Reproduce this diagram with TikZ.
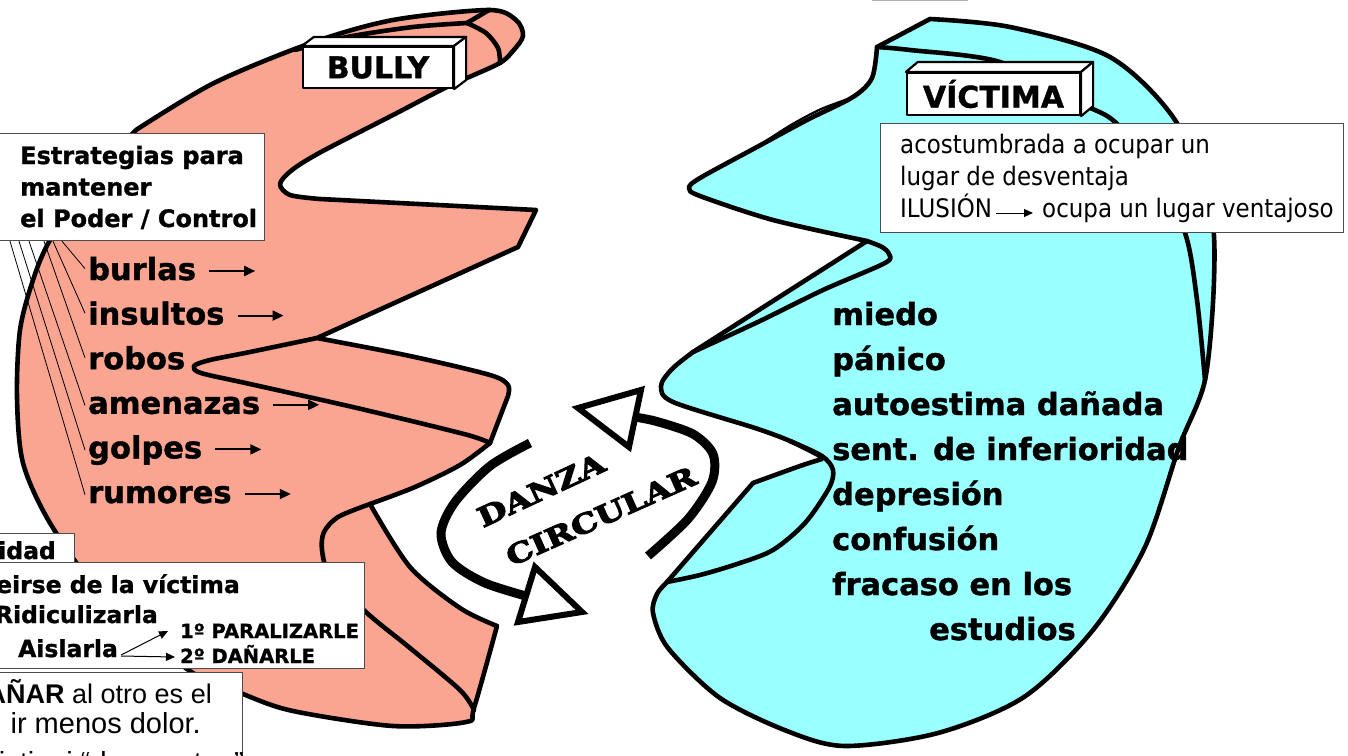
\documentclass[tikz,border=0pt]{standalone}
\usepackage{fontspec}
\setmainfont[BoldFeatures={FakeBold=1.2}]{DejaVu Sans}
\newfontfamily\arialf{Liberation Sans}
\newfontfamily\condf[FakeStretch=0.9]{DejaVu Sans}
\newfontfamily\danzaf[FakeStretch=1.25,FakeBold=4]{DejaVu Serif Bold}
\usetikzlibrary{arrows.meta}
\definecolor{salmon}{RGB}{250,165,145}
\definecolor{cyanf}{RGB}{153,255,255}
\begin{document}
\begin{tikzpicture}[x=1pt,y=-1pt,
  shp/.style={line width=4.6pt, line join=round, line cap=round, draw=black},
  fold/.style={line width=4.6pt, line join=round, line cap=round},
  infobox/.style={draw=black!70, line width=1.2pt, fill=white, inner sep=0pt},
  cubeface/.style={draw=black, line width=2.2pt, fill=white, line join=round},
  bigword/.style={font=\fontsize{30.5}{36}\selectfont\bfseries, inner sep=0pt, anchor=base west},
  estword/.style={font=\fontsize{24}{29}\selectfont\bfseries, inner sep=0pt, anchor=base west},
  boxword/.style={font=\fontsize{23.5}{28}\selectfont\bfseries, inner sep=0pt},
  smallcap/.style={font=\fontsize{19.5}{23}\selectfont\bfseries, inner sep=0pt, anchor=base west},
  arialtext/.style={font=\arialf\fontsize{27}{32}\selectfont, inner sep=0pt, anchor=base east},
  arialbig/.style={font=\arialf\fontsize{29}{32}\selectfont, inner sep=0pt, anchor=base east},
  condtext/.style={font=\condf\fontsize{25.5}{30}\selectfont, inner sep=0pt, anchor=base west},
  cubetext/.style={font=\fontsize{30}{36}\selectfont\bfseries, cubeface, inner sep=0pt},
  fan/.style={line width=0.8pt},
  warrow/.style={line width=2pt, -{Triangle[length=11pt,width=10pt]}},
  sarrow/.style={line width=1pt, -{Triangle[length=9pt,width=8pt]}},
  danzaline/.style={line width=9pt, line cap=butt},
  danzatip/.style={line width=6pt, fill=white, draw=black, line join=miter},
  danzatext/.style={font=\danzaf\fontsize{27}{30}\selectfont, inner sep=0pt}
]
\useasboundingbox (0,0) rectangle (1348,755);
\clip (0,0) rectangle (1348,755);

% ---------- BULLY ribbon ----------
\path[shp, fill=salmon]
 plot[smooth] coordinates {(136,130)(214,83)(311,43)(393,20)(489,10)(516,20)(523,36)(512,52)(498,64)(447,87)(393,115)(321,152)(292,170)(280,184)(290,195)(320,199)}
 -- (536,210) -- (518,247) -- (317,338)
 -- plot[smooth] coordinates {(317,338)(410,356)(490,375)(508,385)(508,396)}
 -- plot[smooth] coordinates {(490,443)(460,465)(415,487)(370,504)}
 -- plot[smooth] coordinates {(370,504)(410,567)(460,608)(497,626)}
 -- plot[smooth] coordinates {(497,626)(474,708)(466,722)(393,726)(293,711)(243,694)(187,669)(100,592)(50,523)(23,463)(17,397)(20,330)(33,280)(50,240)(90,180)(136,130)}
 -- cycle;
\draw[fold] plot[smooth] coordinates {(295,50)(347,37)(413,27)(467,23)};
\draw[fold] (489,10) -- (467,23);
\draw[fold] plot[smooth] coordinates {(467,23)(486,33)(498,48)(500,63)};
\draw[fold] plot[smooth] coordinates {(317,338)(250,352)(210,360)(194,366)(201,373)(250,384)(357,408)(464,434)(490,443)};
\draw[fold] plot[smooth] coordinates {(370,504)(338,517)(324,532)(322,550)(330,575)(367,613)(410,648)(460,690)(474,710)};

% ---------- VICTIMA ribbon ----------
\path[shp, fill=cyanf]
 (877,47) -- (930,19)
 -- plot[smooth] coordinates {(930,19)(1010,27)(1110,57)(1175,120)(1210,207)(1214,280)(1205,380)(1179,447)(1145,547)(1093,630)(1024,697)(938,733)(845,746)(787,731)(720,698)(668,648)(653,613)(657,594)(667,582)}
 -- (753,483)
 -- plot[smooth] coordinates {(753,483)(800,466)(822,459)}
 -- plot[smooth] coordinates {(822,457)(790,441)(755,428)(673,402)(661,386)(672,369)(693,352)}
 -- (867,241)
 -- plot[smooth] coordinates {(867,241)(773,220)(700,196)(689,188)(700,178)(757,147)(807,120)(853,97)(872,78)(877,47)}
 -- cycle;
\draw[fold] plot[smooth] coordinates {(877,47)(910,50)(1000,62)(1080,103)(1115,122)(1152,170)(1185,233)(1197,300)(1205,380)};
\draw[fold] plot[smooth] coordinates {(867,241)(882,247)(889,254)(885,263)(823,290)(760,321)(693,352)};
\draw[fold] plot[smooth] coordinates {(790,441)(822,456)(833,470)(829,488)(805,523)(773,550)(737,564)(700,575)(667,582)};
\draw[line width=2.2pt] plot[smooth] coordinates {(760,145)(790,125.5)(820,109.5)(848,99)};

% faint mark at top
\draw[black!30, line width=2pt] (872,0) -- (968,0);

% ---------- cubes ----------
\node[cubetext, minimum width=150pt, minimum height=41pt] (bully) at (378,67.5) {BULLY};
\path[cubeface] (bully.north west) -- ++(12,-9) -- ([shift={(12,-9)}]bully.north east) -- (bully.north east) -- cycle;
\path[cubeface] (bully.north east) -- ++(12,-9) -- ([shift={(12,-9)}]bully.south east) -- (bully.south east) -- cycle;

\node[cubetext, minimum width=173pt, minimum height=42pt] (victima) at (993.5,94) {VÍCTIMA};
\path[cubeface] (victima.north west) -- ++(12,-10) -- ([shift={(12,-10)}]victima.north east) -- (victima.north east) -- cycle;
\path[cubeface] (victima.north east) -- ++(12,-10) -- ([shift={(12,-10)}]victima.south east) -- (victima.south east) -- cycle;

% ---------- text boxes ----------
\node[infobox, anchor=north west, minimum width=270pt, minimum height=107pt] (estbox) at (-6,133) {};
\node[infobox, anchor=north west, minimum width=80pt, minimum height=30pt] (idadbox) at (-6,533) {};
\node[infobox, anchor=north west, minimum width=370pt, minimum height=106pt] (box2) at (-6,562) {};
\node[infobox, anchor=north west, minimum width=248pt, minimum height=95pt] (box3) at (-6,672) {};
\node[infobox, anchor=north west, minimum width=463pt, minimum height=109pt] (vbox) at (880,123) {};

\node[estword] (est1) at (20,164) {Estrategias para};
\node[estword] (est2) at (20,195.5) {mantener};
\node[estword] (est3) at (20,227) {el Poder / Control};

% ---------- bully words ----------
\node[bigword] (burlas) at (88,280) {burlas};
\node[bigword] (insultos) at (88,324.6) {insultos};
\node[bigword] (robos) at (88,369.2) {robos};
\node[bigword] (amenazas) at (88,413.8) {amenazas};
\node[bigword] (golpes) at (88,458.4) {golpes};
\node[bigword] (rumores) at (88,503) {rumores};
\foreach \w in {burlas,insultos,amenazas,golpes,rumores}{
  \draw[warrow] ([xshift=13pt,yshift=9pt]\w.base east) -- ++(46,0);
}
\draw[fan] ([xshift=68pt]estbox.south west) -- ([xshift=-3pt]burlas.west);
\draw[fan] ([xshift=59pt]estbox.south west) -- ([xshift=-3pt]insultos.west);
\draw[fan] ([xshift=50pt]estbox.south west) -- ([xshift=-3pt]robos.west);
\draw[fan] ([xshift=35pt]estbox.south west) -- ([xshift=-3pt]amenazas.west);
\draw[fan] ([xshift=25pt]estbox.south west) -- ([xshift=-3pt]golpes.west);
\draw[fan] ([xshift=16pt]estbox.south west) -- ([xshift=-3pt]rumores.west);

% ---------- lower-left boxes ----------
\node[boxword, anchor=base east] (idad) at (56,559) {idad};
\node[boxword, anchor=base east] (reir) at (240,593) {eirse de la víctima};
\node[boxword, anchor=base east] (ridic) at (158,623) {Ridiculizarla};
\node[boxword, anchor=base west] (aisl) at (18,657) {Aislarla};
\node[smallcap] (par) at (180,638) {1º PARALIZARLE};
\node[smallcap] (dan) at (180,663) {2º DAÑARLE};
\draw[sarrow] ([xshift=3pt,yshift=2pt]aisl.base east) -- ([xshift=-12pt,yshift=7pt]par.base west);
\draw[sarrow] ([xshift=3pt,yshift=1pt]aisl.base east) -- ([xshift=-5pt,yshift=6pt]dan.base west);

\node[arialtext] (dl1) at (212,703) {\textbf{AÑAR} al otro es el};
\node[arialbig] (dl2) at (201,733) {ir menos dolor.};
\node[arialbig] (dl3) at (244,772) {existir si “desmontan”};

% ---------- victima box ----------
\node[condtext] (vt1) at (900,153) {acostumbrada a ocupar un};
\node[condtext] (vt2) at (900,185) {lugar de desventaja};
\node[condtext] (ilu) at (900,217) {ILUSIÓN};
\node[condtext] (ocupa) at (1042,217) {ocupa un lugar ventajoso};
\draw[sarrow] ([xshift=4pt,yshift=4pt]ilu.base east) -- ([xshift=-9pt,yshift=4pt]ocupa.base west);

% ---------- victima words ----------
\node[bigword] (miedo) at (832,325) {miedo};
\node[bigword] (panico) at (832,370) {pánico};
\node[bigword] (autoest) at (832,415) {autoestima dañada};
\node[bigword] (sent) at (832,460) {sent. de inferioridad};
\node[bigword] (depre) at (832,505) {depresión};
\node[bigword] (confu) at (832,550) {confusión};
\node[bigword] (fracaso) at (832,595) {fracaso en los};
\node[bigword] (estudios) at (929,640) {estudios};

% ---------- danza circular ----------
\draw[danzaline] plot[smooth] coordinates {(530,443)(490,466)(455,502)(441,533)(452,562)(485,583)(533,598)};
\draw[danzatip] (535,567) -- (582,612) -- (518,622) -- cycle;
\draw[danzaline] plot[smooth] coordinates {(648,556)(688,519)(712,482)(713,454)(693,434)(655,421)(628,416)};
\draw[danzatip] (578,408) -- (641,390) -- (629,447) -- cycle;
\node[danzatext, rotate=25] (danza) at (541,490) {DANZA};
\node[danzatext, rotate=24] (circ) at (601,516) {CIRCULAR};
\end{tikzpicture}
\end{document}
